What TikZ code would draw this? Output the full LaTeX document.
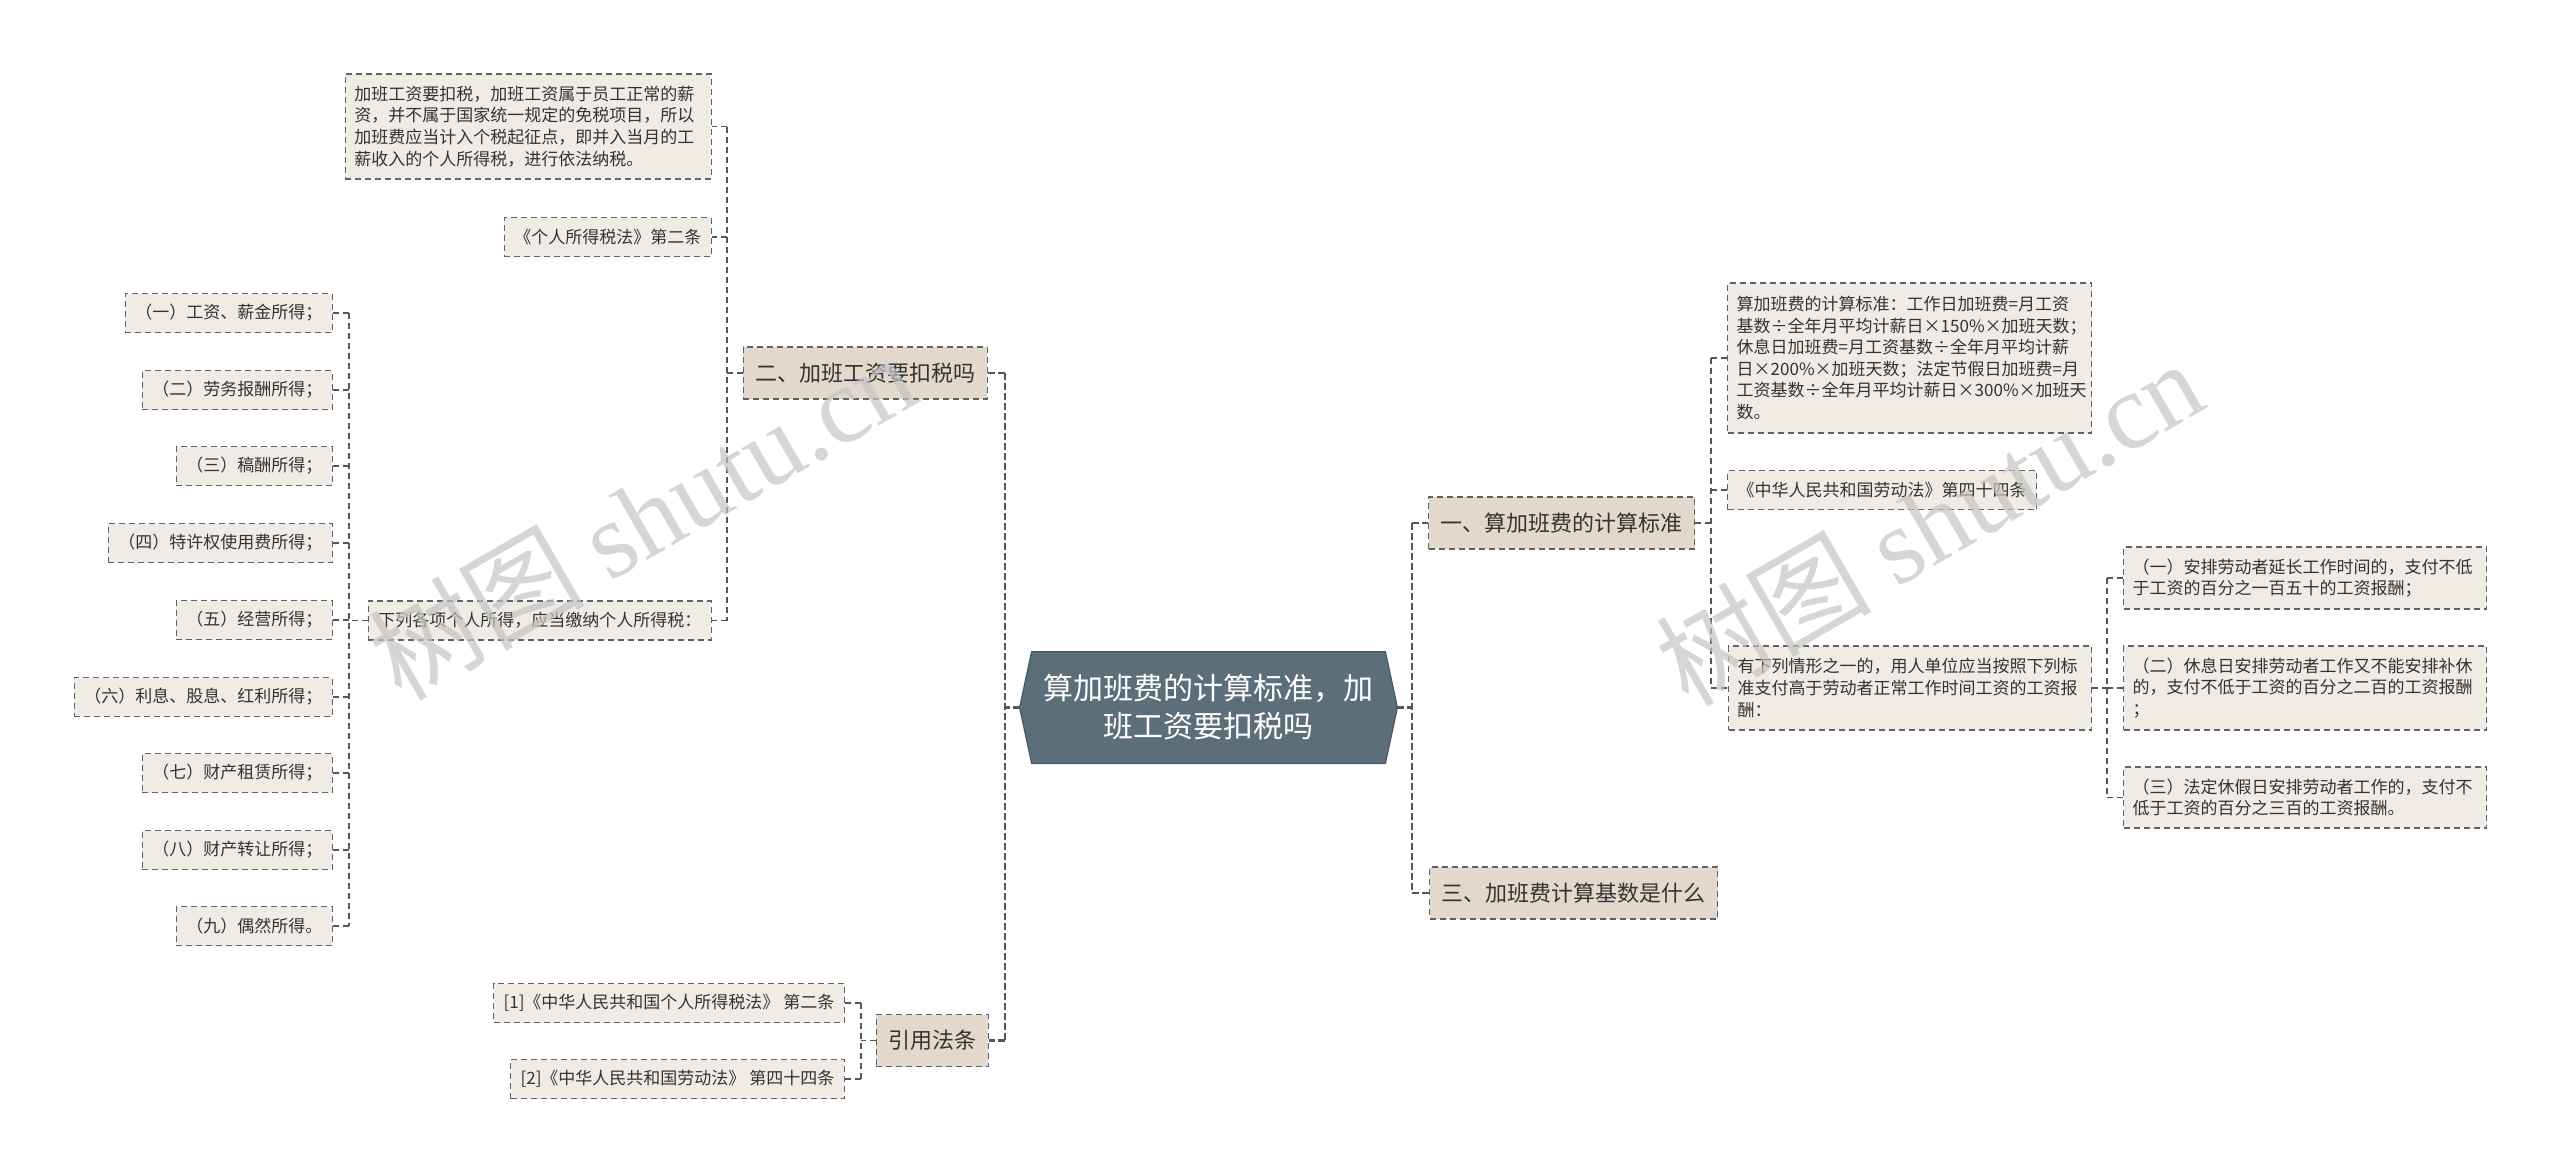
\documentclass[tikz,border=0pt]{standalone}
\usepackage{fontspec}
\newfontfamily\cjk{Noto Sans CJK SC}
\newfontfamily\wmserif{Liberation Serif}
\usetikzlibrary{backgrounds}
\definecolor{leaffill}{HTML}{F0ECE5}
\definecolor{topicfill}{HTML}{E2D9CC}
\definecolor{rootfill}{HTML}{5D6E7B}
\definecolor{rootline}{HTML}{4A5864}
\definecolor{boxline}{HTML}{626262}
\definecolor{connc}{HTML}{4D5864}
\definecolor{textc}{HTML}{333333}
\definecolor{wmc}{HTML}{C4C4C4}
\begin{document}
\begin{tikzpicture}[x=0.5pt,y=-0.5pt,
  leaf/.style={draw=boxline, line width=0.7pt, dash pattern=on 3pt off 2pt, fill=leaffill, text=textc,
    font=\cjk\fontsize{8.5pt}{10.8pt}\selectfont, inner xsep=5pt, inner ysep=0pt, minimum height=19.5pt},
  block/.style={leaf, align=left, inner xsep=4.5pt, inner ysep=3pt},
  topic/.style={draw=boxline, line width=0.7pt, dash pattern=on 3pt off 2pt, fill=topicfill, text=textc,
    font=\cjk\fontsize{11pt}{13pt}\selectfont, inner xsep=6pt, inner ysep=0pt, minimum height=26pt},
  conn/.style={draw=connc, line width=0.75pt, dash pattern=on 3pt off 2pt},
  rootconn/.style={draw=connc, line width=1.3pt, dash pattern=on 3.5pt off 1.5pt},
  wmark/.style={text=wmc, opacity=0.7, inner sep=0pt, rotate=30}
]
\useasboundingbox (0,0) rectangle (2560,1174);

% bus coordinates
\coordinate (busL) at (1005,0);
\coordinate (busR) at (1412,0);
\coordinate (busTwo) at (727,0);
\coordinate (busList) at (349,0);
\coordinate (busCite) at (861,0);
\coordinate (busOne) at (1711,0);
\coordinate (busRL) at (2107,0);

% root
\node[minimum width=188.5pt, minimum height=55.5pt, inner sep=0pt, align=center, text=white,
  font=\cjk\fontsize{15pt}{19pt}\selectfont] (root) at (1208.5,707.5) {算加班费的计算标准，加\\班工资要扣税吗};
\begin{scope}[on background layer]
\filldraw[fill=rootfill, draw=rootline, line width=0.6pt] (root.west) -- ([xshift=6pt]root.north west) -- ([xshift=-6pt]root.north east) -- (root.east) -- ([xshift=-6pt]root.south east) -- ([xshift=6pt]root.south west) -- cycle;
\end{scope}

% level 1
\node[topic, anchor=east] (n2) at (988,373) {二、加班工资要扣税吗};
\node[topic, anchor=east] (cite) at (989,1040.5) {引用法条};
\node[topic, anchor=west] (n1) at (1428,523) {一、算加班费的计算标准};
\node[topic, anchor=west] (n3) at (1429,893) {三、加班费计算基数是什么};

% children of n2
\node[block, anchor=east, text width=174pt, minimum height=52.5pt] (lb1) at (712,126.5)
  {加班工资要扣税，加班工资属于员工正常的薪\\资，并不属于国家统一规定的免税项目，所以\\加班费应当计入个税起征点，即并入当月的工\\薪收入的个人所得税，进行依法纳税。};
\node[leaf, anchor=east] (llaw) at (712,237) {《个人所得税法》第二条};
\node[leaf, anchor=east] (llist) at (712,620.5) {下列各项个人所得，应当缴纳个人所得税：};

% list items
\node[leaf, anchor=east] (i1) at (333,313) {（一）工资、薪金所得；};
\node[leaf, anchor=east] (i2) at (333,390) {（二）劳务报酬所得；};
\node[leaf, anchor=east] (i3) at (333,466) {（三）稿酬所得；};
\node[leaf, anchor=east] (i4) at (333,543) {（四）特许权使用费所得；};
\node[leaf, anchor=east] (i5) at (333,620) {（五）经营所得；};
\node[leaf, anchor=east] (i6) at (333,697) {（六）利息、股息、红利所得；};
\node[leaf, anchor=east] (i7) at (333,773) {（七）财产租赁所得；};
\node[leaf, anchor=east] (i8) at (333,850) {（八）财产转让所得；};
\node[leaf, anchor=east] (i9) at (333,926) {（九）偶然所得。};

% citations
\node[leaf, anchor=east] (c1) at (845,1003) {[1]《中华人民共和国个人所得税法》 第二条};
\node[leaf, anchor=east] (c2) at (845,1079) {[2]《中华人民共和国劳动法》 第四十四条};

% children of n1
\node[block, anchor=west, text width=173pt, minimum height=75pt] (rb1) at (1727,358)
  {算加班费的计算标准：工作日加班费=月工资\\基数÷全年月平均计薪日×150\%×加班天数；\\休息日加班费=月工资基数÷全年月平均计薪\\日×200\%×加班天数；法定节假日加班费=月\\工资基数÷全年月平均计薪日×300\%×加班天\\数。};
\node[leaf, anchor=west] (rlaw) at (1727,490) {《中华人民共和国劳动法》第四十四条};
\node[block, anchor=west, text width=172.5pt, minimum height=42pt] (rlist) at (1728,688)
  {有下列情形之一的，用人单位应当按照下列标\\准支付高于劳动者正常工作时间工资的工资报\\酬：};

% children of rlist
\node[block, anchor=west, text width=172.5pt, minimum height=31pt] (s1) at (2123,578)
  {（一）安排劳动者延长工作时间的，支付不低\\于工资的百分之一百五十的工资报酬；};
\node[block, anchor=west, text width=172.5pt, minimum height=42pt] (s2) at (2123,688)
  {（二）休息日安排劳动者工作又不能安排补休\\的，支付不低于工资的百分之二百的工资报酬\\；};
\node[block, anchor=west, text width=172.5pt, minimum height=30.5pt] (s3) at (2123,797.5)
  {（三）法定休假日安排劳动者工作的，支付不\\低于工资的百分之三百的工资报酬。};

% connectors from root (left)
\draw[rootconn] (root.west) -- (root.west -| busL);
\draw[rootconn] (n2.east -| busL) -- (cite.east -| busL);
\draw[rootconn] (n2.east -| busL) -- (n2.east);
\draw[rootconn] (cite.east -| busL) -- (cite.east);
% connectors from root (right)
\draw[rootconn] (root.east) -- (root.east -| busR);
\draw[rootconn] (n1.west -| busR) -- (n3.west -| busR);
\draw[rootconn] (n1.west -| busR) -- (n1.west);
\draw[rootconn] (n3.west -| busR) -- (n3.west);

% n2 children
\draw[conn] (n2.west) -- (n2.west -| busTwo);
\draw[conn] (lb1.east -| busTwo) -- (llist.east -| busTwo);
\foreach \k in {lb1,llaw,llist}{
  \draw[conn] (\k.east -| busTwo) -- (\k.east);
}

% list children
\draw[conn] (llist.west) -- (llist.west -| busList);
\draw[conn] (i1.east -| busList) -- (i9.east -| busList);
\foreach \k in {i1,i2,i3,i4,i5,i6,i7,i8,i9}{
  \draw[conn] (\k.east -| busList) -- (\k.east);
}

% cite children
\draw[conn] (cite.west) -- (cite.west -| busCite);
\draw[conn] (c1.east -| busCite) -- (c2.east -| busCite);
\foreach \k in {c1,c2}{
  \draw[conn] (\k.east -| busCite) -- (\k.east);
}

% n1 children
\draw[conn] (n1.east) -- (n1.east -| busOne);
\draw[conn] (rb1.west -| busOne) -- (rlist.west -| busOne);
\foreach \k in {rb1,rlaw,rlist}{
  \draw[conn] (\k.west -| busOne) -- (\k.west);
}

% rlist children
\draw[conn] (rlist.east) -- (rlist.east -| busRL);
\draw[conn] (s1.west -| busRL) -- (s3.west -| busRL);
\foreach \k in {s1,s2,s3}{
  \draw[conn] (\k.west -| busRL) -- (\k.west);
}

% watermarks
\node[wmark] (wmA) at (642,516) {\fontsize{54pt}{54pt}\selectfont\cjk 树图\ \wmserif shutu.cn};
\node[wmark] (wmB) at (1929,522) {\fontsize{54pt}{54pt}\selectfont\cjk 树图\ \wmserif shutu.cn};
\end{tikzpicture}
\end{document}
